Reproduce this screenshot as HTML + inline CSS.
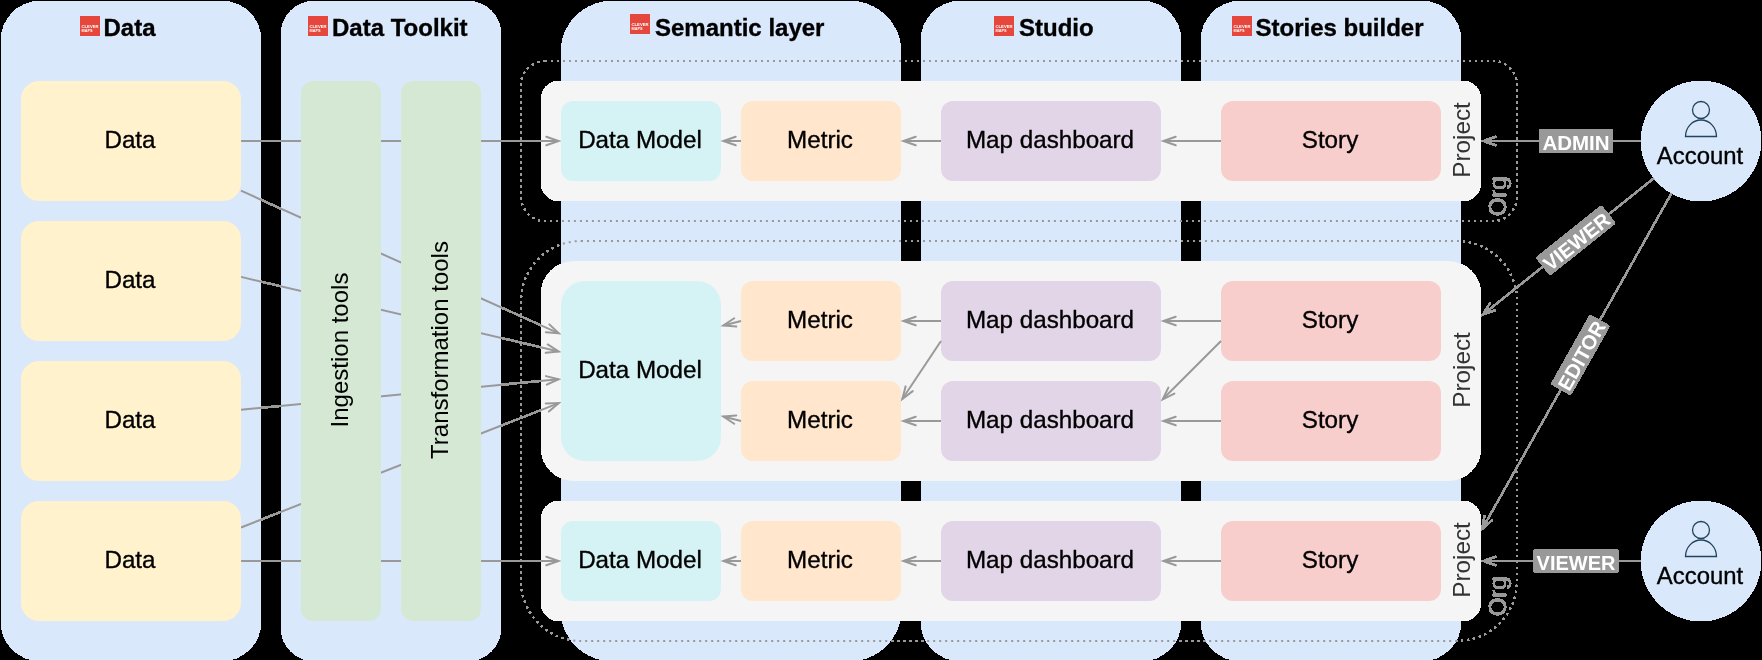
<!DOCTYPE html>
<html><head><meta charset="utf-8"><style>
html,body{margin:0;padding:0;background:#000;}
body{width:1762px;height:660px;overflow:hidden;}
svg{display:block;will-change:transform;font-family:"Liberation Sans",sans-serif;}
</style></head><body>
<svg width="1762" height="660" viewBox="0 0 1762 660" font-family="Liberation Sans, sans-serif">
<defs><filter id="al" x="0" y="0" width="1762" height="660" filterUnits="userSpaceOnUse" color-interpolation-filters="sRGB">
<feComponentTransfer><feFuncA type="discrete" tableValues="0 1 1 1 1 1 1 1"/></feComponentTransfer></filter></defs>
<g filter="url(#al)">
<rect x="1" y="1" width="260" height="660" rx="39.0" ry="39.0" fill="#dae8fc"/>
<rect x="281" y="1" width="220" height="660" rx="33.0" ry="33.0" fill="#dae8fc"/>
<rect x="561" y="1" width="340" height="660" rx="51.0" ry="51.0" fill="#dae8fc"/>
<rect x="921" y="1" width="260" height="660" rx="39.0" ry="39.0" fill="#dae8fc"/>
<rect x="1201" y="1" width="260" height="660" rx="39.0" ry="39.0" fill="#dae8fc"/>
<rect x="80" y="16" width="20" height="20" fill="#e5473d"/>
<text x="81.5" y="28" font-size="4.2" font-weight="bold" fill="#fff" textLength="17" lengthAdjust="spacingAndGlyphs">CLEVER</text>
<text x="81.5" y="32" font-size="4.2" font-weight="bold" fill="#fff" textLength="11" lengthAdjust="spacingAndGlyphs">MAPS</text>
<text x="103.5" y="36" font-size="24" text-anchor="start" font-weight="bold" fill="#000" stroke="#000" stroke-width="0.35" >Data</text>
<rect x="308" y="16" width="20" height="20" fill="#e5473d"/>
<text x="309.5" y="28" font-size="4.2" font-weight="bold" fill="#fff" textLength="17" lengthAdjust="spacingAndGlyphs">CLEVER</text>
<text x="309.5" y="32" font-size="4.2" font-weight="bold" fill="#fff" textLength="11" lengthAdjust="spacingAndGlyphs">MAPS</text>
<text x="332" y="36" font-size="24" text-anchor="start" font-weight="bold" fill="#000" stroke="#000" stroke-width="0.35" >Data Toolkit</text>
<rect x="630" y="14" width="20" height="20" fill="#e5473d"/>
<text x="631.5" y="26" font-size="4.2" font-weight="bold" fill="#fff" textLength="17" lengthAdjust="spacingAndGlyphs">CLEVER</text>
<text x="631.5" y="30" font-size="4.2" font-weight="bold" fill="#fff" textLength="11" lengthAdjust="spacingAndGlyphs">MAPS</text>
<text x="655" y="36" font-size="24" text-anchor="start" font-weight="bold" fill="#000" stroke="#000" stroke-width="0.35" >Semantic layer</text>
<rect x="994" y="16" width="20" height="20" fill="#e5473d"/>
<text x="995.5" y="28" font-size="4.2" font-weight="bold" fill="#fff" textLength="17" lengthAdjust="spacingAndGlyphs">CLEVER</text>
<text x="995.5" y="32" font-size="4.2" font-weight="bold" fill="#fff" textLength="11" lengthAdjust="spacingAndGlyphs">MAPS</text>
<text x="1019" y="36" font-size="24" text-anchor="start" font-weight="bold" fill="#000" stroke="#000" stroke-width="0.35" >Studio</text>
<rect x="1232" y="16" width="20" height="20" fill="#e5473d"/>
<text x="1233.5" y="28" font-size="4.2" font-weight="bold" fill="#fff" textLength="17" lengthAdjust="spacingAndGlyphs">CLEVER</text>
<text x="1233.5" y="32" font-size="4.2" font-weight="bold" fill="#fff" textLength="11" lengthAdjust="spacingAndGlyphs">MAPS</text>
<text x="1255.5" y="36" font-size="24" text-anchor="start" font-weight="bold" fill="#000" stroke="#000" stroke-width="0.35" >Stories builder</text>
<rect x="521" y="61" width="996" height="160" rx="24.0" ry="24.0" fill="none" stroke="#999999" stroke-width="2" stroke-dasharray="2 4"/>
<rect x="521" y="241" width="996" height="400" rx="60.0" ry="60.0" fill="none" stroke="#999999" stroke-width="2" stroke-dasharray="2 4"/>
<rect x="541" y="81" width="940" height="120" rx="18.0" ry="18.0" fill="#f5f5f5"/>
<rect x="541" y="261" width="940" height="220" rx="33.0" ry="33.0" fill="#f5f5f5"/>
<rect x="541" y="501" width="940" height="120" rx="18.0" ry="18.0" fill="#f5f5f5"/>
<line x1="241" y1="141" x2="558.60" y2="141.00" stroke="#999999" stroke-width="2"/>
<polyline points="546.30,145.30 558.60,141.00 546.30,136.70" fill="none" stroke="#999999" stroke-width="2" stroke-linejoin="miter" stroke-miterlimit="10" stroke-linecap="round"/>
<line x1="241" y1="561" x2="558.60" y2="561.00" stroke="#999999" stroke-width="2"/>
<polyline points="546.30,565.30 558.60,561.00 546.30,556.70" fill="none" stroke="#999999" stroke-width="2" stroke-linejoin="miter" stroke-miterlimit="10" stroke-linecap="round"/>
<line x1="241" y1="190.7" x2="558.81" y2="333.32" stroke="#999999" stroke-width="2"/>
<polyline points="545.83,332.20 558.81,333.32 549.35,324.36" fill="none" stroke="#999999" stroke-width="2" stroke-linejoin="miter" stroke-miterlimit="10" stroke-linecap="round"/>
<line x1="241" y1="276.9" x2="558.66" y2="351.45" stroke="#999999" stroke-width="2"/>
<polyline points="545.71,352.83 558.66,351.45 547.67,344.46" fill="none" stroke="#999999" stroke-width="2" stroke-linejoin="miter" stroke-miterlimit="10" stroke-linecap="round"/>
<line x1="241" y1="409.7" x2="558.61" y2="379.23" stroke="#999999" stroke-width="2"/>
<polyline points="546.78,384.68 558.61,379.23 545.96,376.12" fill="none" stroke="#999999" stroke-width="2" stroke-linejoin="miter" stroke-miterlimit="10" stroke-linecap="round"/>
<line x1="241" y1="527.5" x2="558.77" y2="403.08" stroke="#999999" stroke-width="2"/>
<polyline points="548.88,411.56 558.77,403.08 545.74,403.56" fill="none" stroke="#999999" stroke-width="2" stroke-linejoin="miter" stroke-miterlimit="10" stroke-linecap="round"/>
<rect x="301" y="81" width="80" height="540" rx="12.0" ry="12.0" fill="#d5e8d4"/>
<rect x="401" y="81" width="80" height="540" rx="12.0" ry="12.0" fill="#d5e8d4"/>
<text x="0" y="0" font-size="24" text-anchor="middle" transform="translate(348.3,350) rotate(-90)">Ingestion tools</text>
<text x="0" y="0" font-size="24" text-anchor="middle" transform="translate(448.3,350) rotate(-90)">Transformation tools</text>
<rect x="21" y="81" width="220" height="120" rx="18.0" ry="18.0" fill="#fff2cc"/>
<text x="130" y="148" font-size="24.2" text-anchor="middle" font-weight="normal" fill="#000" stroke="#000" stroke-width="0.35" >Data</text>
<rect x="21" y="221" width="220" height="120" rx="18.0" ry="18.0" fill="#fff2cc"/>
<text x="130" y="288" font-size="24.2" text-anchor="middle" font-weight="normal" fill="#000" stroke="#000" stroke-width="0.35" >Data</text>
<rect x="21" y="361" width="220" height="120" rx="18.0" ry="18.0" fill="#fff2cc"/>
<text x="130" y="428" font-size="24.2" text-anchor="middle" font-weight="normal" fill="#000" stroke="#000" stroke-width="0.35" >Data</text>
<rect x="21" y="501" width="220" height="120" rx="18.0" ry="18.0" fill="#fff2cc"/>
<text x="130" y="568" font-size="24.2" text-anchor="middle" font-weight="normal" fill="#000" stroke="#000" stroke-width="0.35" >Data</text>
<rect x="561" y="101" width="160" height="80" rx="12.0" ry="12.0" fill="#d5f3f5"/>
<text x="640" y="148" font-size="24.2" text-anchor="middle" font-weight="normal" fill="#000" stroke="#000" stroke-width="0.35" >Data Model</text>
<rect x="741" y="101" width="160" height="80" rx="12.0" ry="12.0" fill="#ffe6cc"/>
<text x="820" y="148" font-size="24.2" text-anchor="middle" font-weight="normal" fill="#000" stroke="#000" stroke-width="0.35" >Metric</text>
<rect x="941" y="101" width="220" height="80" rx="12.0" ry="12.0" fill="#e1d5e7"/>
<text x="1050" y="148" font-size="24.2" text-anchor="middle" font-weight="normal" fill="#000" stroke="#000" stroke-width="0.35" >Map dashboard</text>
<rect x="1221" y="101" width="220" height="80" rx="12.0" ry="12.0" fill="#f8cecc"/>
<text x="1330" y="148" font-size="24.2" text-anchor="middle" font-weight="normal" fill="#000" stroke="#000" stroke-width="0.35" >Story</text>
<line x1="741" y1="141" x2="723.40" y2="141.00" stroke="#999999" stroke-width="2"/>
<polyline points="735.70,136.70 723.40,141.00 735.70,145.30" fill="none" stroke="#999999" stroke-width="2" stroke-linejoin="miter" stroke-miterlimit="10" stroke-linecap="round"/>
<line x1="941" y1="141" x2="903.40" y2="141.00" stroke="#999999" stroke-width="2"/>
<polyline points="915.70,136.70 903.40,141.00 915.70,145.30" fill="none" stroke="#999999" stroke-width="2" stroke-linejoin="miter" stroke-miterlimit="10" stroke-linecap="round"/>
<line x1="1221" y1="141" x2="1163.40" y2="141.00" stroke="#999999" stroke-width="2"/>
<polyline points="1175.70,136.70 1163.40,141.00 1175.70,145.30" fill="none" stroke="#999999" stroke-width="2" stroke-linejoin="miter" stroke-miterlimit="10" stroke-linecap="round"/>
<rect x="561" y="521" width="160" height="80" rx="12.0" ry="12.0" fill="#d5f3f5"/>
<text x="640" y="568" font-size="24.2" text-anchor="middle" font-weight="normal" fill="#000" stroke="#000" stroke-width="0.35" >Data Model</text>
<rect x="741" y="521" width="160" height="80" rx="12.0" ry="12.0" fill="#ffe6cc"/>
<text x="820" y="568" font-size="24.2" text-anchor="middle" font-weight="normal" fill="#000" stroke="#000" stroke-width="0.35" >Metric</text>
<rect x="941" y="521" width="220" height="80" rx="12.0" ry="12.0" fill="#e1d5e7"/>
<text x="1050" y="568" font-size="24.2" text-anchor="middle" font-weight="normal" fill="#000" stroke="#000" stroke-width="0.35" >Map dashboard</text>
<rect x="1221" y="521" width="220" height="80" rx="12.0" ry="12.0" fill="#f8cecc"/>
<text x="1330" y="568" font-size="24.2" text-anchor="middle" font-weight="normal" fill="#000" stroke="#000" stroke-width="0.35" >Story</text>
<line x1="741" y1="561" x2="723.40" y2="561.00" stroke="#999999" stroke-width="2"/>
<polyline points="735.70,556.70 723.40,561.00 735.70,565.30" fill="none" stroke="#999999" stroke-width="2" stroke-linejoin="miter" stroke-miterlimit="10" stroke-linecap="round"/>
<line x1="941" y1="561" x2="903.40" y2="561.00" stroke="#999999" stroke-width="2"/>
<polyline points="915.70,556.70 903.40,561.00 915.70,565.30" fill="none" stroke="#999999" stroke-width="2" stroke-linejoin="miter" stroke-miterlimit="10" stroke-linecap="round"/>
<line x1="1221" y1="561" x2="1163.40" y2="561.00" stroke="#999999" stroke-width="2"/>
<polyline points="1175.70,556.70 1163.40,561.00 1175.70,565.30" fill="none" stroke="#999999" stroke-width="2" stroke-linejoin="miter" stroke-miterlimit="10" stroke-linecap="round"/>
<rect x="561" y="281" width="160" height="180" rx="24.0" ry="24.0" fill="#d5f3f5"/>
<text x="640" y="378" font-size="24.2" text-anchor="middle" font-weight="normal" fill="#000" stroke="#000" stroke-width="0.35" >Data Model</text>
<rect x="741" y="281" width="160" height="80" rx="12.0" ry="12.0" fill="#ffe6cc"/>
<text x="820" y="328" font-size="24.2" text-anchor="middle" font-weight="normal" fill="#000" stroke="#000" stroke-width="0.35" >Metric</text>
<rect x="941" y="281" width="220" height="80" rx="12.0" ry="12.0" fill="#e1d5e7"/>
<text x="1050" y="328" font-size="24.2" text-anchor="middle" font-weight="normal" fill="#000" stroke="#000" stroke-width="0.35" >Map dashboard</text>
<rect x="1221" y="281" width="220" height="80" rx="12.0" ry="12.0" fill="#f8cecc"/>
<text x="1330" y="328" font-size="24.2" text-anchor="middle" font-weight="normal" fill="#000" stroke="#000" stroke-width="0.35" >Story</text>
<line x1="941" y1="321" x2="903.40" y2="321.00" stroke="#999999" stroke-width="2"/>
<polyline points="915.70,316.70 903.40,321.00 915.70,325.30" fill="none" stroke="#999999" stroke-width="2" stroke-linejoin="miter" stroke-miterlimit="10" stroke-linecap="round"/>
<line x1="1221" y1="321" x2="1163.40" y2="321.00" stroke="#999999" stroke-width="2"/>
<polyline points="1175.70,316.70 1163.40,321.00 1175.70,325.30" fill="none" stroke="#999999" stroke-width="2" stroke-linejoin="miter" stroke-miterlimit="10" stroke-linecap="round"/>
<rect x="741" y="381" width="160" height="80" rx="12.0" ry="12.0" fill="#ffe6cc"/>
<text x="820" y="428" font-size="24.2" text-anchor="middle" font-weight="normal" fill="#000" stroke="#000" stroke-width="0.35" >Metric</text>
<rect x="941" y="381" width="220" height="80" rx="12.0" ry="12.0" fill="#e1d5e7"/>
<text x="1050" y="428" font-size="24.2" text-anchor="middle" font-weight="normal" fill="#000" stroke="#000" stroke-width="0.35" >Map dashboard</text>
<rect x="1221" y="381" width="220" height="80" rx="12.0" ry="12.0" fill="#f8cecc"/>
<text x="1330" y="428" font-size="24.2" text-anchor="middle" font-weight="normal" fill="#000" stroke="#000" stroke-width="0.35" >Story</text>
<line x1="941" y1="421" x2="903.40" y2="421.00" stroke="#999999" stroke-width="2"/>
<polyline points="915.70,416.70 903.40,421.00 915.70,425.30" fill="none" stroke="#999999" stroke-width="2" stroke-linejoin="miter" stroke-miterlimit="10" stroke-linecap="round"/>
<line x1="1221" y1="421" x2="1163.40" y2="421.00" stroke="#999999" stroke-width="2"/>
<polyline points="1175.70,416.70 1163.40,421.00 1175.70,425.30" fill="none" stroke="#999999" stroke-width="2" stroke-linejoin="miter" stroke-miterlimit="10" stroke-linecap="round"/>
<line x1="741" y1="321" x2="723.33" y2="325.42" stroke="#999999" stroke-width="2"/>
<polyline points="734.22,318.26 723.33,325.42 736.30,326.61" fill="none" stroke="#999999" stroke-width="2" stroke-linejoin="miter" stroke-miterlimit="10" stroke-linecap="round"/>
<line x1="741" y1="421" x2="723.33" y2="416.58" stroke="#999999" stroke-width="2"/>
<polyline points="736.30,415.39 723.33,416.58 734.22,423.74" fill="none" stroke="#999999" stroke-width="2" stroke-linejoin="miter" stroke-miterlimit="10" stroke-linecap="round"/>
<line x1="941" y1="341" x2="902.33" y2="399.00" stroke="#999999" stroke-width="2"/>
<polyline points="905.58,386.38 902.33,399.00 912.73,391.15" fill="none" stroke="#999999" stroke-width="2" stroke-linejoin="miter" stroke-miterlimit="10" stroke-linecap="round"/>
<line x1="1221" y1="341" x2="1162.70" y2="399.30" stroke="#999999" stroke-width="2"/>
<polyline points="1168.35,387.56 1162.70,399.30 1174.44,393.65" fill="none" stroke="#999999" stroke-width="2" stroke-linejoin="miter" stroke-miterlimit="10" stroke-linecap="round"/>
<text x="0" y="0" font-size="24.3" fill="#333333" text-anchor="middle" transform="translate(1470,140) rotate(-90)">Project</text>
<text x="0" y="0" font-size="24.3" fill="#333333" text-anchor="middle" transform="translate(1470,370) rotate(-90)">Project</text>
<text x="0" y="0" font-size="24.3" fill="#333333" text-anchor="middle" transform="translate(1470,560) rotate(-90)">Project</text>
<text x="1506.3" y="216.3" font-size="24" fill="#999999" stroke="#999999" stroke-width="0.35" text-anchor="start" transform="rotate(-90 1506.3 216.3)">Org</text>
<text x="1506.3" y="616.3" font-size="24" fill="#999999" stroke="#999999" stroke-width="0.35" text-anchor="start" transform="rotate(-90 1506.3 616.3)">Org</text>
<circle cx="1701" cy="141" r="60" fill="#dae8fc"/>
<circle cx="1701" cy="110" r="8.5" fill="none" stroke="#23445d" stroke-width="1.3"/>
<path d="M1685.5 136.5 A15.5 16.5 0 0 1 1716.5 136.5 Z" fill="none" stroke="#23445d" stroke-width="1.3"/>
<text x="1700" y="163.5" font-size="23.9" text-anchor="middle" font-weight="normal" fill="#000" stroke="#000" stroke-width="0.35" >Account</text>
<circle cx="1701" cy="561" r="60" fill="#dae8fc"/>
<circle cx="1701" cy="530" r="8.5" fill="none" stroke="#23445d" stroke-width="1.3"/>
<path d="M1685.5 556.5 A15.5 16.5 0 0 1 1716.5 556.5 Z" fill="none" stroke="#23445d" stroke-width="1.3"/>
<text x="1700" y="583.5" font-size="23.9" text-anchor="middle" font-weight="normal" fill="#000" stroke="#000" stroke-width="0.35" >Account</text>
<line x1="1641" y1="141" x2="1483.40" y2="141.00" stroke="#999999" stroke-width="2"/>
<polyline points="1495.70,136.70 1483.40,141.00 1495.70,145.30" fill="none" stroke="#999999" stroke-width="2" stroke-linejoin="miter" stroke-miterlimit="10" stroke-linecap="round"/>
<line x1="1641" y1="561" x2="1483.40" y2="561.00" stroke="#999999" stroke-width="2"/>
<polyline points="1495.70,556.70 1483.40,561.00 1495.70,565.30" fill="none" stroke="#999999" stroke-width="2" stroke-linejoin="miter" stroke-miterlimit="10" stroke-linecap="round"/>
<line x1="1653.9" y1="178.2" x2="1482.88" y2="314.50" stroke="#999999" stroke-width="2"/>
<polyline points="1489.82,303.48 1482.88,314.50 1495.18,310.20" fill="none" stroke="#999999" stroke-width="2" stroke-linejoin="miter" stroke-miterlimit="10" stroke-linecap="round"/>
<line x1="1671.5" y1="193.3" x2="1482.18" y2="528.91" stroke="#999999" stroke-width="2"/>
<polyline points="1484.48,516.08 1482.18,528.91 1491.97,520.31" fill="none" stroke="#999999" stroke-width="2" stroke-linejoin="miter" stroke-miterlimit="10" stroke-linecap="round"/>
<g transform="translate(1576,141) rotate(0)"><rect x="-37.0" y="-12.0" width="74" height="24" rx="2.5" fill="#999999"/><text x="0" y="9.0" font-size="20.5" font-weight="bold" fill="#fff" text-anchor="middle">ADMIN</text></g>
<g transform="translate(1576,561) rotate(0)"><rect x="-42.5" y="-12.0" width="85" height="24" rx="2.5" fill="#999999"/><text x="0" y="9.0" font-size="20" font-weight="bold" fill="#fff" text-anchor="middle">VIEWER</text></g>
<g transform="translate(1575.7,240.45) rotate(-38.56)"><rect x="-42.0" y="-11.5" width="84" height="23" rx="2.5" fill="#999999"/><text x="0" y="8.5" font-size="20" font-weight="bold" fill="#fff" text-anchor="middle">VIEWER</text></g>
<g transform="translate(1580.4,354.9) rotate(-60.57)"><rect x="-40.0" y="-11.5" width="80" height="23" rx="2.5" fill="#999999"/><text x="0" y="8.5" font-size="20.2" font-weight="bold" fill="#fff" text-anchor="middle">EDITOR</text></g>
</g>
</svg>
</body></html>
